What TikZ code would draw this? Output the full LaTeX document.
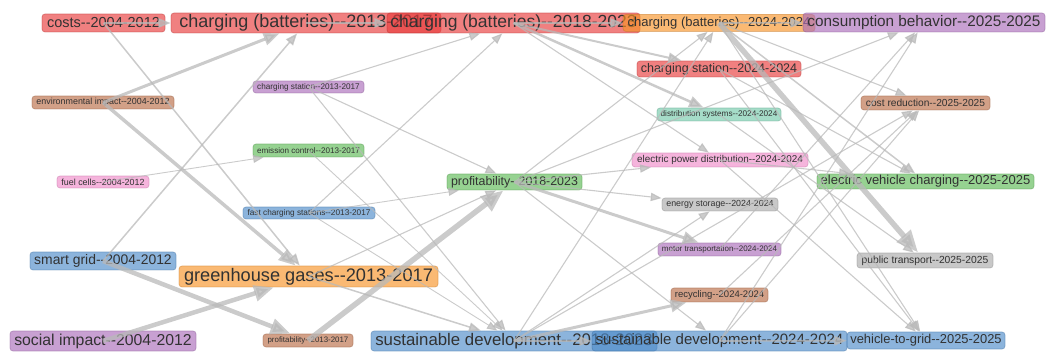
\documentclass[tikz,border=0pt]{standalone}
\usepackage{fontspec}
\setmainfont{Liberation Sans}
\usetikzlibrary{arrows.meta}
\definecolor{cred}{RGB}{232,60,60}
\definecolor{corange}{RGB}{248,148,40}
\definecolor{cpurple}{RGB}{171,109,186}
\definecolor{cbrown}{RGB}{186,109,71}
\definecolor{cteal}{RGB}{117,202,171}
\definecolor{cgreen}{RGB}{94,186,86}
\definecolor{cpink}{RGB}{240,140,202}
\definecolor{cblue}{RGB}{78,140,202}
\definecolor{cgray}{RGB}{171,171,171}
\definecolor{edgec}{RGB}{185,185,185}
\definecolor{txt}{RGB}{50,50,50}
\newcommand{\setfs}[1]{\fontsize{#1pt}{#1pt}\selectfont}
\begin{document}
\begin{tikzpicture}[x=1pt,y=-1pt,
  nd/.style={rounded corners=3pt, inner sep=0pt, fill=#1, fill opacity=0.65,
    draw=#1!80!black, draw opacity=0.45, line width=0.8pt, text opacity=1, text=txt},
  ed/.style={draw=edgec, opacity=0.75, line width=#1pt,
    -{Triangle[length=8pt 2.6, width=6pt 2.1]}}]
\useasboundingbox (0,0) rectangle (1046,352);
% column 1
\node[nd=cred, minimum width=123pt, minimum height=18pt, font={\setfs{14.5}}] (costs) at (103.5,23) {costs-{}-2004-2012};
\node[nd=cbrown, minimum width=142pt, minimum height=13pt, font={\setfs{8.9}}] (envimp) at (103,102.5) {environmental impact-{}-2004-2012};
\node[nd=cpink, minimum width=92pt, minimum height=12pt, font={\setfs{8.9}}] (fuel) at (103,182) {fuel cells-{}-2004-2012};
\node[nd=cblue, minimum width=146pt, minimum height=18pt, font={\setfs{13.9}}] (smart) at (103,261) {smart grid-{}-2004-2012};
\node[nd=cpurple, minimum width=186pt, minimum height=20pt, font={\setfs{15.8}}] (social) at (103,341) {social impact-{}-2004-2012};
% column 2
\node[nd=cred, minimum width=270pt, minimum height=20pt, font={\setfs{18}}] (cb13) at (306,23) {charging (batteries)-{}-2013-2017};
\node[nd=cpurple, minimum width=111pt, minimum height=12pt, font={\setfs{8.2}}] (cs13) at (308.5,87) {charging station-{}-2013-2017};
\node[nd=cgreen, minimum width=111pt, minimum height=13pt, font={\setfs{8.1}}] (emctrl) at (308.5,150.5) {emission control-{}-2013-2017};
\node[nd=cblue, minimum width=132pt, minimum height=12pt, font={\setfs{8.25}}] (fcs) at (309,213) {fast charging stations-{}-2013-2017};
\node[nd=corange, minimum width=259pt, minimum height=21pt, font={\setfs{18.2}}] (ghg) at (308.5,276.5) {greenhouse gases-{}-2013-2017};
\node[nd=cbrown, minimum width=90pt, minimum height=13pt, font={\setfs{7.9}}] (prof13) at (308,340.5) {profitability-{}-2013-2017};
% column 3
\node[nd=cred, minimum width=253pt, minimum height=20pt, font={\setfs{17.5}}] (cb18) at (513.5,23) {charging (batteries)-{}-2018-2023};
\node[nd=cgreen, minimum width=135pt, minimum height=16pt, font={\setfs{12.4}}] (prof18) at (514.5,182) {profitability-{}-2018-2023};
\node[nd=cblue, minimum width=286pt, minimum height=20pt, font={\setfs{16.8}}] (sd18) at (514,341) {sustainable development-{}-2018-2023};
% column 4
\node[nd=corange, minimum width=192pt, minimum height=17pt, font={\setfs{13}}] (cb24) at (719,23) {charging (batteries)-{}-2024-2024};
\node[nd=cred, minimum width=164pt, minimum height=16pt, font={\setfs{12.5}}] (cs24) at (719,69) {charging station-{}-2024-2024};
\node[nd=cteal, minimum width=124pt, minimum height=13pt, font={\setfs{8.2}}] (distsys) at (719,114.5) {distribution systems-{}-2024-2024};
\node[nd=cpink, minimum width=176pt, minimum height=14pt, font={\setfs{9.9}}] (epd) at (720,160) {electric power distribution-{}-2024-2024};
\node[nd=cgray, minimum width=116pt, minimum height=13pt, font={\setfs{8.85}}] (estor) at (720,204.5) {energy storage-{}-2024-2024};
\node[nd=cpurple, minimum width=123pt, minimum height=13pt, font={\setfs{8}}] (motor) at (719.5,249.5) {motor transportation-{}-2024-2024};
\node[nd=cbrown, minimum width=97pt, minimum height=14pt, font={\setfs{9.5}}] (recyc) at (719.5,295) {recycling-{}-2024-2024};
\node[nd=cblue, minimum width=255pt, minimum height=20pt, font={\setfs{15}}] (sd24) at (719.5,341) {sustainable development-{}-2024-2024};
% column 5
\node[nd=cpurple, minimum width=242pt, minimum height=19pt, font={\setfs{15.3}}] (cons) at (924,22.5) {consumption behavior-{}-2025-2025};
\node[nd=cbrown, minimum width=129pt, minimum height=14pt, font={\setfs{10.2}}] (costred) at (925.5,103) {cost reduction-{}-2025-2025};
\node[nd=cgreen, minimum width=217pt, minimum height=15pt, font={\setfs{13}}] (evc) at (925.5,181.5) {electric vehicle charging-{}-2025-2025};
\node[nd=cgray, minimum width=136pt, minimum height=15pt, font={\setfs{10.3}}] (pubtr) at (925,260.5) {public transport-{}-2025-2025};
\node[nd=cblue, minimum width=158pt, minimum height=17pt, font={\setfs{12.9}}] (v2g) at (926,340.5) {vehicle-to-grid-{}-2025-2025};
% edges
\draw[ed=1.6] (costs.center) -- (cb13);
\draw[ed=1.6] (cb13.center) -- (cb18);
\draw[ed=1.6] (cb18.center) -- (cb24);
\draw[ed=1.6] (cb24.center) -- (cons);
\draw[ed=1.6] (sd18.center) -- (sd24);
\draw[ed=1.6] (sd24.center) -- (v2g);
\draw[ed=3] (envimp.center) -- (cb13);
\draw[ed=1.5] (smart.center) -- (cb13);
\draw[ed=1.5] (costs.center) -- (ghg);
\draw[ed=3.5] (envimp.center) -- (ghg);
\draw[ed=4.5] (smart.center) -- (prof13);
\draw[ed=4.5] (social.center) -- (ghg);
\draw[ed=0.9] (fuel.center) -- (emctrl);
\draw[ed=5.5] (prof13.center) -- (prof18);
\draw[ed=0.9] (fcs.center) -- (prof18);
\draw[ed=1.1] (ghg.center) -- (prof18);
\draw[ed=1.1] (cs13.center) -- (prof18);
\draw[ed=1.1] (cs13.center) -- (cb18);
\draw[ed=1.1] (fcs.center) -- (cb18);
\draw[ed=1.1] (cs13.center) -- (sd18);
\draw[ed=0.9] (fcs.center) -- (sd18);
\draw[ed=0.9] (emctrl.center) -- (sd18);
\draw[ed=1.5] (ghg.center) -- (sd18);
\draw[ed=2] (cb18.center) -- (cs24);
\draw[ed=2.5] (cb18.center) -- (distsys);
\draw[ed=1.1] (cb18.center) -- (epd);
\draw[ed=1.1] (prof18.center) -- (epd);
\draw[ed=1.1] (prof18.center) -- (estor);
\draw[ed=3] (prof18.center) -- (motor);
\draw[ed=1.1] (prof18.center) -- (cb24);
\draw[ed=1.1] (prof18.center) -- (sd24);
\draw[ed=1.1] (prof18.center) -- (cons);
\draw[ed=3] (sd18.center) -- (recyc);
\draw[ed=1.1] (sd18.center) -- (cb24);
\draw[ed=1.1] (sd18.center) -- (estor);
\draw[ed=1.1] (sd18.center) -- (costred);
\draw[ed=5.5] (cb24.center) -- (pubtr);
\draw[ed=1.5] (cb24.center) -- (evc);
\draw[ed=1.1] (cb24.center) -- (costred);
\draw[ed=1.1] (cb24.center) -- (v2g);
\draw[ed=1.1] (cs24.center) -- (evc);
\draw[ed=1.1] (cs24.center) -- (v2g);
\draw[ed=1.1] (epd.center) -- (evc);
\draw[ed=1.1] (epd.center) -- (v2g);
\draw[ed=1.1] (distsys.center) -- (pubtr);
\draw[ed=1.1] (recyc.center) -- (costred);
\draw[ed=1.1] (motor.center) -- (cons);
\draw[ed=1.1] (sd24.center) -- (cons);
\draw[ed=1.1] (sd24.center) -- (costred);
\end{tikzpicture}
\end{document}
